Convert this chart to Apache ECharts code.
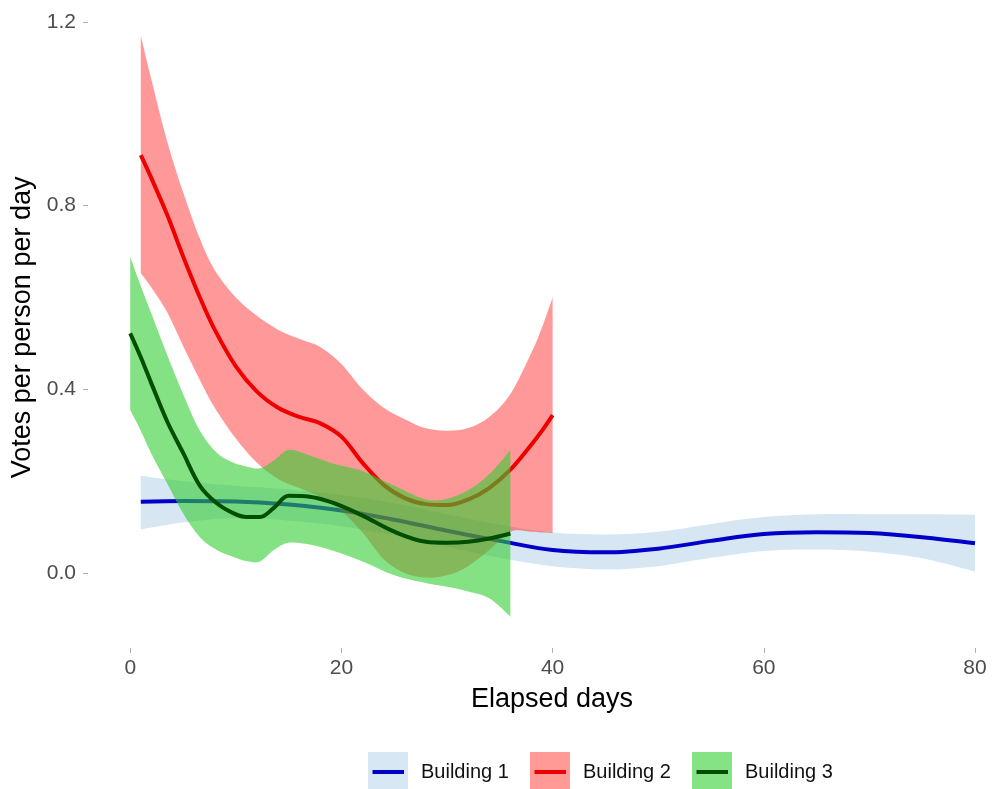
<!DOCTYPE html>
<html>
<head>
<meta charset="utf-8">
<script src="https://cdn.jsdelivr.net/npm/echarts@6/dist/echarts.min.js"></script>
<style>
html,body{margin:0;padding:0;background:#fff;}
#chart{width:994px;height:789px;}
</style>
</head>
<body>
<div id="chart"></div>
<script>
// ---- data ----
const seriesNames = ['Building 1', 'Building 2', 'Building 3'];
const xTicks = [0, 20, 40, 60, 80];
const yTicks = [0, 0.4, 0.8, 1.2];

const b1Days  = [1, 5, 10, 15, 20, 25, 30, 35, 40, 45, 50, 55, 60, 65, 70, 75, 80];
const b1Fit   = [0.155, 0.157, 0.156, 0.149, 0.136, 0.116, 0.092, 0.07, 0.05, 0.045, 0.053, 0.07, 0.085, 0.089, 0.087, 0.078, 0.065];
const b1Upper = [0.212, 0.2, 0.19, 0.182, 0.17, 0.152, 0.128, 0.105, 0.088, 0.084, 0.09, 0.107, 0.122, 0.128, 0.128, 0.128, 0.127];
const b1Lower = [0.095, 0.11, 0.12, 0.114, 0.102, 0.082, 0.058, 0.033, 0.015, 0.008, 0.015, 0.033, 0.048, 0.051, 0.047, 0.032, 0.003];

const b2Days  = [1, 2, 3.5, 5, 6.6, 8, 10, 12, 14, 16, 18, 20, 22, 24, 26, 28, 30, 32, 34, 36, 38, 39, 40];
const b2Fit   = [0.91, 0.86, 0.78, 0.69, 0.6, 0.53, 0.45, 0.395, 0.36, 0.34, 0.326, 0.297, 0.24, 0.192, 0.163, 0.15, 0.148, 0.16, 0.185, 0.225, 0.28, 0.31, 0.344];
const b2Upper = [1.17, 1.075, 0.94, 0.83, 0.728, 0.66, 0.6, 0.56, 0.53, 0.51, 0.492, 0.455, 0.4, 0.36, 0.335, 0.315, 0.31, 0.316, 0.34, 0.39, 0.48, 0.535, 0.6];
const b2Lower = [0.653, 0.622, 0.568, 0.495, 0.42, 0.36, 0.293, 0.24, 0.205, 0.185, 0.165, 0.135, 0.088, 0.03, 0.0, -0.01, -0.005, 0.015, 0.05, 0.09, 0.09, 0.088, 0.087];

const b3Days  = [0, 1, 2, 3.5, 5, 6.6, 8.2, 9.8, 11, 12.3, 13.6, 15, 17, 19.3, 22, 25, 28, 30, 32, 34, 36];
const b3Fit   = [0.522, 0.47, 0.413, 0.33, 0.262, 0.19, 0.152, 0.13, 0.122, 0.122, 0.142, 0.168, 0.166, 0.152, 0.125, 0.09, 0.068, 0.066, 0.068, 0.075, 0.086];
const b3Upper = [0.689, 0.625, 0.565, 0.475, 0.39, 0.31, 0.262, 0.24, 0.232, 0.228, 0.245, 0.268, 0.256, 0.238, 0.222, 0.19, 0.16, 0.162, 0.18, 0.215, 0.268];
const b3Lower = [0.355, 0.31, 0.26, 0.195, 0.13, 0.078, 0.05, 0.035, 0.026, 0.025, 0.05, 0.066, 0.062, 0.048, 0.025, -0.005, -0.022, -0.03, -0.04, -0.055, -0.095];

// ---- styles ----
const lineColors = ['#0000c8', '#ee0000', '#004f00'];
const bandColors = ['rgba(173,206,230,0.5)', 'rgba(255,0,0,0.4)', 'rgba(50,205,50,0.6)'];
const keyColors  = ['#d7e7f3', '#ff9a97', '#85e385'];

const groups = [
  { days: b1Days, fit: b1Fit, up: b1Upper, lo: b1Lower },
  { days: b2Days, fit: b2Fit, up: b2Upper, lo: b2Lower },
  { days: b3Days, fit: b3Fit, up: b3Upper, lo: b3Lower }
];

// Catmull-Rom spline through pixel points -> SVG cubic segments
function splineSegs(P) {
  let s = '';
  for (let i = 0; i < P.length - 1; i++) {
    const p0 = P[i - 1] || P[i], p1 = P[i], p2 = P[i + 1], p3 = P[i + 2] || P[i + 1];
    const c1x = p1[0] + (p2[0] - p0[0]) / 6, c1y = p1[1] + (p2[1] - p0[1]) / 6;
    const c2x = p2[0] - (p3[0] - p1[0]) / 6, c2y = p2[1] - (p3[1] - p1[1]) / 6;
    s += ' C' + c1x.toFixed(2) + ',' + c1y.toFixed(2) + ' ' + c2x.toFixed(2) + ',' + c2y.toFixed(2) + ' ' + p2[0].toFixed(2) + ',' + p2[1].toFixed(2);
  }
  return s;
}

function bandRenderer(k) {
  return function (params, api) {
    if (params.dataIndex !== 0) return null;
    const n = params.dataInsideLength;
    const U = [], L = [];
    for (let i = 0; i < n; i++) {
      const x = api.value(0, i);
      U.push(api.coord([x, api.value(2, i)]));
      L.push(api.coord([x, api.value(1, i)]));
    }
    L.reverse();
    let d = 'M' + U[0][0].toFixed(2) + ',' + U[0][1].toFixed(2) + splineSegs(U);
    d += ' L' + L[0][0].toFixed(2) + ',' + L[0][1].toFixed(2) + splineSegs(L) + ' Z';
    return { type: 'path', shape: { pathData: d }, style: { fill: bandColors[k], stroke: null } };
  };
}

const series = [];
groups.forEach((g, k) => {
  series.push({
    type: 'custom', name: seriesNames[k] + ' band',
    dimensions: ['day', 'lower', 'upper'],
    data: g.days.map((d, i) => [d, g.lo[i], g.up[i]]),
    encode: { x: 0, y: [1, 2] },
    renderItem: bandRenderer(k), silent: true, z: 2 * k + 1
  });
  series.push({
    type: 'line', name: seriesNames[k], data: g.days.map((d, i) => [d, g.fit[i]]),
    symbol: 'none', smooth: 0.35,
    lineStyle: { color: lineColors[k], width: 4 }, itemStyle: { color: lineColors[k] }, z: 2 * k + 2
  });
});

// legend keys drawn as graphics (box + line) with text
const legendX = [368, 530, 692];
const graphic = [];
seriesNames.forEach((n, k) => {
  const x0 = legendX[k];
  graphic.push({ type: 'rect', left: x0, top: 752, shape: { width: 40, height: 40 }, style: { fill: keyColors[k] }, z: 100 });
  graphic.push({ type: 'line', shape: { x1: x0 + 4.5, y1: 772, x2: x0 + 36, y2: 772 }, style: { stroke: lineColors[k], lineWidth: 4 }, z: 101 });
  graphic.push({ type: 'text', x: x0 + 53, y: 772, style: { text: n, fill: '#111', font: '20px "Liberation Sans", Arial, sans-serif', textVerticalAlign: 'middle' }, z: 101 });
});

const chart = echarts.init(document.getElementById('chart'), null, { renderer: 'canvas' });
chart.setOption({
  animation: false,
  backgroundColor: '#ffffff',
  textStyle: { fontFamily: '"Liberation Sans", Arial, sans-serif' },
  grid: { left: 88, right: 0, top: 6.8, bottom: 141, containLabel: false },
  xAxis: {
    type: 'value', min: -4, max: 81.8,
    name: 'Elapsed days', nameLocation: 'middle', nameGap: 38,
    nameTextStyle: { fontSize: 27, color: '#000', padding: [0, 0, 0, 22] },
    axisLine: { show: false, onZero: false },
    splitLine: { show: false },
    axisTick: { show: true, length: 5, customValues: xTicks, lineStyle: { color: '#b0b0b0', width: 1 } },
    axisLabel: { customValues: xTicks, fontSize: 21, color: '#4d4d4d', margin: 10, formatter: v => String(v) }
  },
  yAxis: {
    type: 'value', min: -0.1633, max: 1.2331,
    name: 'Votes per person per day', nameLocation: 'middle', nameGap: 43,
    nameTextStyle: { fontSize: 27, color: '#000' },
    axisLine: { show: false, onZero: false },
    splitLine: { show: false },
    axisTick: { show: true, length: 5, customValues: yTicks, lineStyle: { color: '#b0b0b0', width: 1 } },
    axisLabel: { customValues: yTicks, fontSize: 21, color: '#4d4d4d', margin: 12, formatter: v => v.toFixed(1) }
  },
  series: series,
  graphic: graphic
});
</script>
</body>
</html>
